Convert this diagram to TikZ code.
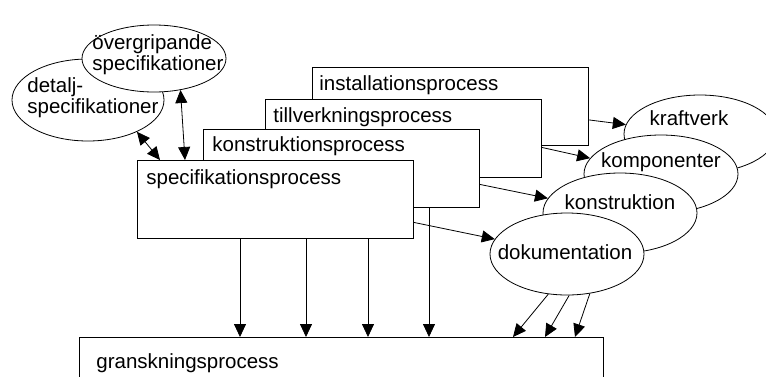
\documentclass[tikz,border=0pt]{standalone}
\usepackage{fontspec}
\setmainfont{Liberation Sans}
\usetikzlibrary{arrows.meta}
\usetikzlibrary{shapes.geometric}
\usetikzlibrary{positioning}

\tikzset{
  proc/.style={draw,fill=white,rectangle,anchor=north west,inner sep=0pt,
    minimum width=276pt,minimum height=78pt},
  res/.style={draw,fill=white,ellipse,inner sep=0pt},
  lbl/.style={anchor=base west,inner sep=0pt},
  pil/.style={-{Triangle[length=13pt,width=12pt]}},
  dubbelpil/.style={{Triangle[length=13pt,width=12pt]}-{Triangle[length=13pt,width=12pt]}}
}

\begin{document}
\begin{tikzpicture}[x=1pt,y=-1pt,line width=0.8pt,font=\fontsize{20.5}{21}\selectfont]
        \useasboundingbox (0,0) rectangle (766,376);

        % processes, back to front
        \node[proc] (inst) at (312,67) {};
        \node[lbl] (inst-txt) at (319,90) {installationsprocess};
        \node[proc] (tillv) at (265,99) {};
        \node[lbl] (tillv-txt) at (273,122) {tillverkningsprocess};
        \node[proc] (konstr) at (203,129) {};
        \node[lbl] (konstr-txt) at (212,151) {konstruktionsprocess};
        \node[proc] (spec) at (137,160) {};
        \node[lbl] (spec-txt) at (146,184) {specifikationsprocess};

        \node[proc,minimum width=524pt,minimum height=70pt] (gransk) at (79,337) {};
        \node[lbl] (gransk-txt) at (96,368) {granskningsprocess};

        % specifications (base = last line)
        \node[res,minimum width=152pt,minimum height=82pt] (detalj) at (88,100) {};
        \node[lbl,align=left] (detalj-txt) at (27,113) {detalj-\\specifikationer};
        \node[res,minimum width=144pt,minimum height=67pt] (overgr) at (154,58.5) {};
        \node[lbl,align=left] (overgr-txt) at (92,70) {övergripande\\specifikationer};

        % results, back to front
        \node[res,minimum width=152pt,minimum height=78pt] (kraft) at (700,134) {};
        \node[anchor=base,inner sep=0pt] (kraft-txt) at (689,125) {kraftverk};
        \node[res,minimum width=154pt,minimum height=78pt] (komp) at (661,174) {};
        \node[anchor=base,inner sep=0pt] (komp-txt) at (661,167) {komponenter};
        \node[res,minimum width=154pt,minimum height=80pt] (konstrukt) at (620,213) {};
        \node[anchor=base,inner sep=0pt] (konstrukt-txt) at (620,209) {konstruktion};
        \node[res,minimum width=154pt,minimum height=82pt] (doku) at (567,254) {};
        \node[anchor=base,inner sep=0pt] (doku-txt) at (565,259) {dokumentation};

        \draw[dubbelpil] (detalj.-33) -- ([xshift=23pt]spec.north west);
        \draw[dubbelpil] (overgr.-50) -- ([xshift=48pt]spec.north west);

        \draw[pil] ([yshift=-13.5pt]inst.east) -- (kraft);
        \draw[pil] ([yshift=-9pt]tillv.east) -- (komp);
        \draw[pil] ([yshift=-16pt]konstr.east) -- (konstrukt);
        \draw[pil] ([yshift=-23pt]spec.east) -- (doku);

        \foreach \dx in {103,169,231}
          \draw[pil] ([xshift=\dx pt]spec.south west) -- ([xshift=\dx pt]spec.south west |- gransk.north);
        \draw[pil] ([xshift=226pt]konstr.south west) -- ([xshift=226pt]konstr.south west |- gransk.north);

        \draw[pil] (doku.-115) -- ([xshift=434pt]gransk.north west);
        \draw[pil] (doku.-87) -- ([xshift=466pt]gransk.north west);
        \draw[pil] (doku.-60) -- ([xshift=496pt]gransk.north west);
\end{tikzpicture}
\end{document}
